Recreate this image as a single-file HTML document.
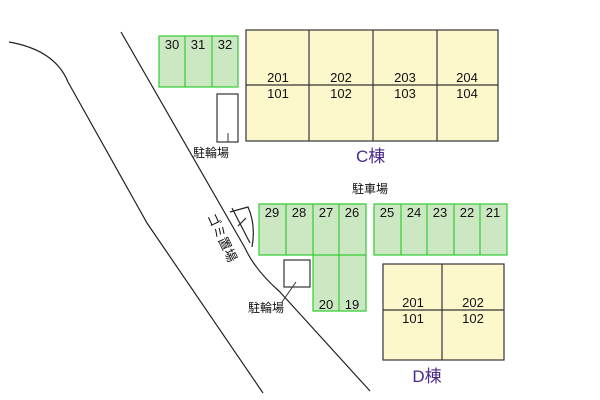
<!DOCTYPE html><html><head><meta charset="utf-8"><style>
body{margin:0;background:#fff}svg{display:block}
text{font-family:"Liberation Sans","Noto Sans CJK JP",sans-serif}
</style></head><body>
<svg width="600" height="400" viewBox="0 0 600 400">
<g fill="none" stroke="#222" stroke-width="1.2">
<path d="M9,42 Q55,50 68,82 L147,223 L263,393"/>
<path d="M121,32 L245,248 Q255,270 280,292 L370,391"/>
<line x1="232" y1="208" x2="250" y2="243"/>
<path d="M230,212 L248,207 Q256,225 252,247"/>
<line x1="238" y1="226" x2="246" y2="218"/>
</g>
<g stroke="#3c3" stroke-width="1.2" fill="#cbe8c3">
<rect x="159" y="36" width="79" height="51"/>
<line x1="185" y1="36" x2="185" y2="87"/><line x1="212" y1="36" x2="212" y2="87"/>
<path d="M259,204 H366 V311 H313 V255 H259 Z"/>
<line x1="286" y1="204" x2="286" y2="255"/><line x1="313" y1="204" x2="313" y2="255"/><line x1="339" y1="204" x2="339" y2="311"/><line x1="313" y1="255" x2="366" y2="255"/>
<rect x="374" y="204" width="133" height="51"/>
<line x1="401" y1="204" x2="401" y2="255"/><line x1="427" y1="204" x2="427" y2="255"/><line x1="454" y1="204" x2="454" y2="255"/><line x1="480" y1="204" x2="480" y2="255"/>
</g>
<g stroke="#333" stroke-width="1.2" fill="#fdf8cc">
<rect x="246" y="30" width="252" height="111"/>
<line x1="246" y1="85" x2="498" y2="85"/><line x1="309" y1="30" x2="309" y2="141"/><line x1="373" y1="30" x2="373" y2="141"/><line x1="437" y1="30" x2="437" y2="141"/>
<rect x="383" y="264" width="121" height="96"/>
<line x1="383" y1="310" x2="504" y2="310"/><line x1="442" y1="264" x2="442" y2="360"/>
</g>
<g stroke="#333" stroke-width="1.2" fill="#fff">
<rect x="217" y="94" width="21" height="48"/>
<rect x="284" y="260" width="26" height="27"/>
</g>
<g stroke="#333"><line x1="228" y1="133" x2="228" y2="142"/><line x1="296" y1="282" x2="282" y2="302"/></g>
<g font-size="13" fill="#111" text-anchor="middle">
<text x="172" y="49">30</text><text x="198" y="49">31</text><text x="225" y="49">32</text>
<text x="278" y="82">201</text><text x="341" y="82">202</text><text x="405" y="82">203</text><text x="467" y="82">204</text>
<text x="278" y="98">101</text><text x="341" y="98">102</text><text x="405" y="98">103</text><text x="467" y="98">104</text>
<text x="272" y="217">29</text><text x="299" y="217">28</text><text x="326" y="217">27</text><text x="352" y="217">26</text>
<text x="387" y="217">25</text><text x="414" y="217">24</text><text x="440" y="217">23</text><text x="467" y="217">22</text><text x="493" y="217">21</text>
<text x="326" y="309">20</text><text x="352" y="309">19</text>
<text x="413" y="307">201</text><text x="473" y="307">202</text>
<text x="413" y="323">101</text><text x="473" y="323">102</text>
</g>
<g font-size="12" fill="#111">
<text x="193" y="157">駐輪場</text>
<text x="352" y="193">駐車場</text>
<text x="248" y="312">駐輪場</text>
<text transform="translate(207,216) rotate(65)" font-size="13">ゴミ置場</text>
</g>
<g font-size="17" fill="#4b2a8a">
<text x="356" y="162">C棟</text>
<text x="427" y="382" text-anchor="middle">D棟</text>
</g>
</svg>
</body></html>
